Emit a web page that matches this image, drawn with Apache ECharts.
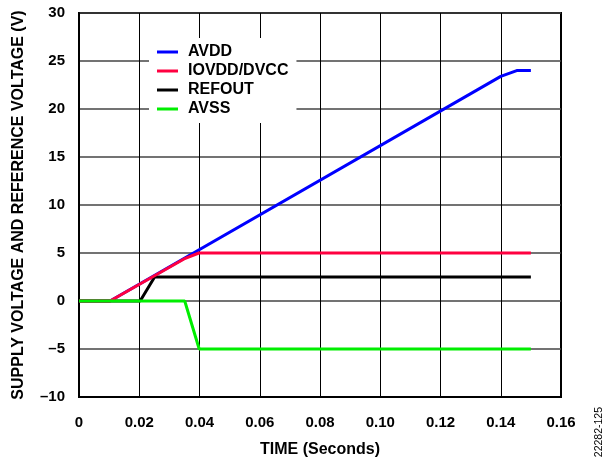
<!DOCTYPE html>
<html>
<head>
<meta charset="utf-8">
<script src="https://cdn.jsdelivr.net/npm/echarts@6/dist/echarts.min.js"></script>
<style>
    html, body { margin: 0; padding: 0; background: #fff; }
    #chart { width: 605px; height: 464px; }
</style>
</head>
<body>
<div id="chart"></div>
<script>
    // 数据 (time in seconds, voltage in V)
    const seriesNames = ['AVDD', 'IOVDD/DVCC', 'REFOUT', 'AVSS'];
    const avdd = [[0, 0], [0.0103, 0], [0.14, 23.4], [0.1453, 24], [0.15, 24]];
    const iovdd = [[0, 0], [0.0103, 0], [0.0353, 4.45], [0.0398, 5], [0.15, 5]];
    const refout = [[0, 0], [0.0203, 0], [0.0251, 2.5], [0.15, 2.5]];
    const avss = [[0, 0], [0.0351, 0], [0.0399, -5], [0.15, -5]];
    const xTicks = [0, 0.02, 0.04, 0.06, 0.08, 0.10, 0.12, 0.14, 0.16];
    const yTicks = [-10, -5, 0, 5, 10, 15, 20, 25, 30];

    const font = 'Arial, "Liberation Sans", sans-serif';
    const colors = ['#0000ff', '#ff0040', '#000000', '#00ee00'];

    const chart = echarts.init(document.getElementById('chart'));

    const lineSeries = function (name, data, color, z) {
        return {
            name: name,
            type: 'line',
            data: data,
            color: color,
            showSymbol: false,
            z: z,
            lineStyle: { width: 3, color: color },
            animation: false
        };
    };

    const option = {
        animation: false,
        grid: {
            left: 79, right: 44, top: 13, bottom: 67,
            show: true, borderColor: '#000', borderWidth: 2
        },
        legend: {
            orient: 'vertical',
            left: 149,
            top: 38,
            padding: [6, 8, 6, 8],
            backgroundColor: '#fff',
            itemGap: 3,
            itemWidth: 21,
            itemHeight: 3,
            icon: 'rect',
            data: seriesNames,
            textStyle: {
                fontFamily: font, fontWeight: 'bold', fontSize: 16, color: '#000',
                lineHeight: 16, padding: [0, 0, 0, 5]
            }
        },
        xAxis: {
            type: 'value',
            min: xTicks[0],
            max: xTicks[xTicks.length - 1],
            interval: 0.02,
            name: 'TIME (Seconds)',
            nameLocation: 'middle',
            nameGap: 45,
            nameTextStyle: { fontFamily: font, fontWeight: 'bold', fontSize: 16, color: '#000' },
            axisLine: { onZero: false, lineStyle: { color: '#000', width: 2 } },
            axisTick: { show: false },
            axisLabel: {
                fontFamily: font, fontWeight: 'bold', fontSize: 15, color: '#000', margin: 18,
                formatter: function (v) { return v === 0 ? '0' : v.toFixed(2); }
            },
            splitLine: { show: true, lineStyle: { color: '#000', width: 1 } }
        },
        yAxis: {
            type: 'value',
            min: yTicks[0],
            max: yTicks[yTicks.length - 1],
            interval: 5,
            name: 'SUPPLY VOLTAGE AND REFERENCE VOLTAGE (V)',
            nameLocation: 'middle',
            nameGap: 52,
            nameTextStyle: { fontFamily: font, fontWeight: 'bold', fontSize: 16, color: '#000' },
            axisLine: { show: true, onZero: false, lineStyle: { color: '#000', width: 2 } },
            axisTick: { show: false },
            axisLabel: {
                fontFamily: font, fontWeight: 'bold', fontSize: 15, color: '#000', margin: 14,
                formatter: function (v) { return v < 0 ? '\u2013' + Math.abs(v) : String(v); }
            },
            splitLine: { show: true, lineStyle: { color: '#444', width: 1.5 } }
        },
        graphic: [{
            type: 'text',
            left: 594,
            top: 407,
            rotation: Math.PI / 2,
            style: { text: '22282-125', fontFamily: font, fontSize: 10.5, fill: '#000' }
        }],
        series: [
            lineSeries(seriesNames[0], avdd, colors[0], 2),
            lineSeries(seriesNames[2], refout, colors[2], 3),
            lineSeries(seriesNames[1], iovdd, colors[1], 4),
            lineSeries(seriesNames[3], avss, colors[3], 5)
        ]
    };
    chart.setOption(option);
</script>
</body>
</html>
